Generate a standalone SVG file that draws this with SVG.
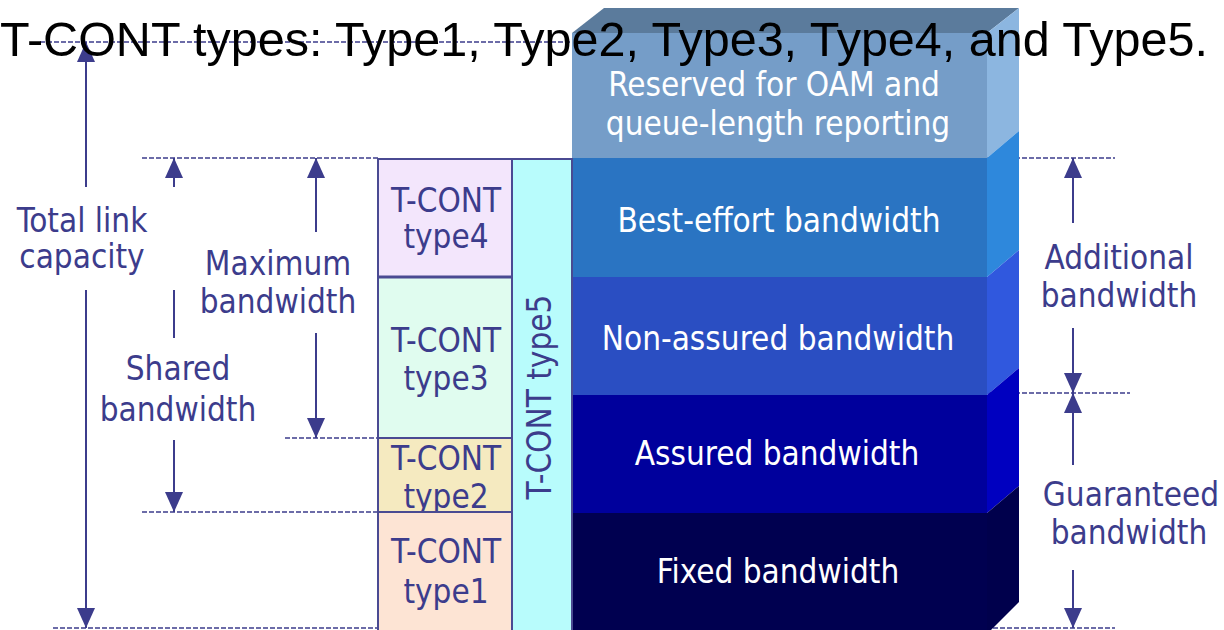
<svg xmlns="http://www.w3.org/2000/svg" width="1224" height="630" viewBox="0 0 1224 630">
<style>
.lbl{font-family:"DejaVu Sans Condensed","DejaVu Sans",sans-serif;font-size:33px;fill:#3c3c8c;text-anchor:middle}
.wl{font-family:"DejaVu Sans Condensed","DejaVu Sans",sans-serif;font-size:33px;fill:#ffffff;text-anchor:middle}
.title{font-family:"Liberation Sans",Arial,sans-serif;font-size:48.5px;fill:#000000}
.dash{stroke:#3c3c8c;stroke-width:1.5;stroke-dasharray:5 2;fill:none}
.dim{stroke:#3c3c8c;stroke-width:2;fill:none}
.arr{stroke:#3c3c8c;stroke-width:2;fill:none;marker-end:url(#ah)}
.arrs{stroke:#3c3c8c;stroke-width:2;fill:none;marker-start:url(#ah)}
.tc{stroke:#4a4a92;stroke-width:2}
</style>
<defs>
<marker id="ah" markerUnits="userSpaceOnUse" markerWidth="20" markerHeight="18" viewBox="0 0 20 18" refX="20" refY="9" orient="auto-start-reverse">
<path d="M0,0 L20,9 L0,18 z" fill="#3c3c8c"/>
</marker>
</defs>
<rect width="1224" height="630" fill="#ffffff"/>

<g id="connectors">
<line class="dash" x1="40" y1="42" x2="572" y2="42"/>
<line class="dash" x1="142" y1="158" x2="378" y2="158"/>
<line class="dash" x1="285" y1="438" x2="378" y2="438"/>
<line class="dash" x1="142" y1="512" x2="378" y2="512"/>
<line class="dash" x1="53" y1="628" x2="378" y2="628"/>
<line class="dash" x1="987" y1="158" x2="1115" y2="158"/>
<line class="dash" x1="987" y1="393" x2="1130" y2="393"/>
<line class="dash" x1="993" y1="628" x2="1115" y2="628"/>
<line class="arrs" x1="86" y1="42" x2="86" y2="187"/>
<line class="arr" x1="86" y1="290" x2="86" y2="628"/>
<line class="arrs" x1="174" y1="158" x2="174" y2="187"/>
<line class="dim" x1="174" y1="290" x2="174" y2="338"/>
<line class="arr" x1="174" y1="440" x2="174" y2="512"/>
<line class="arrs" x1="316" y1="158" x2="316" y2="232"/>
<line class="arr" x1="316" y1="333" x2="316" y2="438"/>
<line class="arrs" x1="1073" y1="158" x2="1073" y2="223"/>
<line class="arr" x1="1073" y1="328" x2="1073" y2="393"/>
<line class="arrs" x1="1073" y1="393" x2="1073" y2="465"/>
<line class="arr" x1="1073" y1="570" x2="1073" y2="628"/>
</g>

<g id="box">
<polygon points="572,33 987,33 1019,8 604,8" fill="#5b7b9c"/>
<rect x="572" y="33" width="415" height="125" fill="#759dc8"/>
<polygon points="987,33 1019,8 1019,131 987,158" fill="#8cb6e0"/>
<rect x="572" y="158" width="415" height="119" fill="#2a74c2"/>
<polygon points="987,158 1019,131 1019,250 987,277" fill="#2e88dc"/>
<rect x="572" y="277" width="415" height="118" fill="#2a4ec2"/>
<polygon points="987,277 1019,250 1019,368 987,395" fill="#3058de"/>
<rect x="572" y="395" width="415" height="118" fill="#00009c"/>
<polygon points="987,395 1019,368 1019,486 987,513" fill="#0000c0"/>
<rect x="572" y="513" width="415" height="117" fill="#000050"/>
<polygon points="987,513 1019,486 1019,602 991,630 987,630" fill="#00004c"/>
</g>

<g id="reserved"><text class="wl" x="774" y="96">Reserved for OAM and</text><text class="wl" x="778" y="135">queue-length reporting</text></g>
<g id="best-effort"><text class="wl" x="779" y="232">Best-effort bandwidth</text></g>
<g id="non-assured"><text class="wl" x="778" y="350">Non-assured bandwidth</text></g>
<g id="assured"><text class="wl" x="777" y="465">Assured bandwidth</text></g>
<g id="fixed"><text class="wl" x="778" y="583">Fixed bandwidth</text></g>

<g id="tcont4"><rect class="tc" x="378" y="159" width="134" height="118" fill="#f3e6fc"/><text class="lbl" x="446" y="212">T-CONT</text><text class="lbl" x="446" y="248">type4</text></g>
<g id="tcont3"><rect class="tc" x="378" y="277" width="134" height="161" fill="#e0fcef"/><line x1="378" y1="277" x2="512" y2="277" stroke="#4a4a92" stroke-width="3"/><text class="lbl" x="446" y="352">T-CONT</text><text class="lbl" x="446" y="390">type3</text></g>
<g id="tcont2"><rect class="tc" x="378" y="438" width="134" height="74" fill="#f5eac0"/><text class="lbl" x="446" y="470">T-CONT</text><text class="lbl" x="446" y="508">type2</text></g>
<g id="tcont1"><rect class="tc" x="378" y="512" width="134" height="120" fill="#fde4d4"/><text class="lbl" x="446" y="563">T-CONT</text><text class="lbl" x="446" y="603">type1</text></g>
<g id="tcont5"><rect class="tc" x="512" y="159" width="60" height="473" fill="#b8fcfc"/><text class="lbl" transform="translate(551,397) rotate(-90)">T-CONT type5</text></g>

<g id="total"><text class="lbl" x="82" y="232">Total link</text><text class="lbl" x="82" y="268">capacity</text></g>
<g id="maximum"><text class="lbl" x="278" y="275">Maximum</text><text class="lbl" x="278" y="313">bandwidth</text></g>
<g id="shared"><text class="lbl" x="178" y="380">Shared</text><text class="lbl" x="178" y="421">bandwidth</text></g>
<g id="additional"><text class="lbl" x="1119" y="269">Additional</text><text class="lbl" x="1119" y="307">bandwidth</text></g>
<g id="guaranteed"><text class="lbl" x="1131" y="506">Guaranteed</text><text class="lbl" x="1129" y="544">bandwidth</text></g>

<g id="title"><text class="title" x="0" y="56">T-CONT types: Type1, Type2, Type3, Type4, and Type5.</text></g>
</svg>
